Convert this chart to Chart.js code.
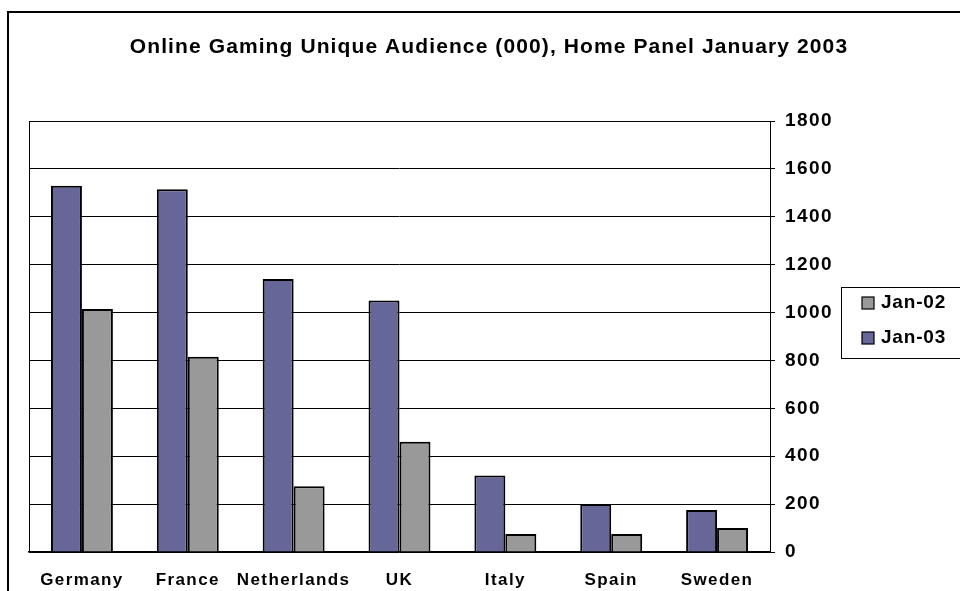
<!DOCTYPE html>
<html lang="en">
<head>
<meta charset="UTF-8">
<title>Online Gaming Unique Audience</title>
<script src="https://cdn.jsdelivr.net/npm/chart.js@4/dist/chart.umd.min.js"></script>
<style>
  html, body { margin:0; padding:0; background:#fff; }
  #wrap { width:960px; height:591px; }
</style>
</head>
<body>
<div id="wrap"><canvas id="chart" width="960" height="591"></canvas></div>

<script>
// ── Data ──────────────────────────────────────────
const countries = ['Germany','France','Netherlands','UK','Italy','Spain','Sweden'];
const jan03 = [1530, 1515, 1140, 1050, 320, 200, 175];
const jan02 = [1015, 815, 275, 460, 75, 75, 100];
const yTicks = [0,200,400,600,800,1000,1200,1400,1600,1800];

const TITLE = 'Online Gaming Unique Audience (000), Home Panel January 2003';
const FONT = 'Arial, "Liberation Sans", sans-serif';

// frame, title and legend drawn on the canvas
const framePlugin = {
  id: 'frame',
  beforeDraw(chart) {
    const ctx = chart.ctx;
    ctx.save();
    ctx.fillStyle = '#fff';
    ctx.fillRect(0, 0, chart.width, chart.height);
    ctx.strokeStyle = '#000';
    ctx.lineWidth = 2;
    ctx.beginPath();
    ctx.moveTo(8, 600);
    ctx.lineTo(8, 12);
    ctx.lineTo(970, 12);
    ctx.stroke();
    ctx.restore();
    ctx.letterSpacing = '1.4px';
  },
  afterDraw(chart) {
    const ctx = chart.ctx;
    const a = chart.chartArea;
    ctx.save();
    ctx.letterSpacing = '0px';
    ctx.strokeStyle = '#000';
    ctx.lineWidth = 1;
    ctx.beginPath();
    ctx.moveTo(a.left + 0.5, a.bottom);
    ctx.lineTo(a.left + 0.5, a.top + 0.5);
    ctx.lineTo(a.right, a.top + 0.5);
    ctx.stroke();

    // title
    ctx.letterSpacing = '1.1px';
    ctx.font = 'bold 21px ' + FONT;
    ctx.fillStyle = '#000';
    ctx.textAlign = 'center';
    ctx.textBaseline = 'alphabetic';
    ctx.fillText(TITLE, 489, 53);

    // legend (Excel order: last series first)
    ctx.letterSpacing = '0.8px';
    ctx.lineWidth = 1;
    ctx.strokeRect(841.5, 287.5, 130, 71);
    ctx.font = 'bold 19px ' + FONT;
    ctx.textAlign = 'left';
    ctx.textBaseline = 'middle';
    const ds = chart.data.datasets.slice().reverse();
    ds.forEach((d, i) => {
      const y = 303 + i * 35;
      ctx.fillStyle = d.backgroundColor;
      ctx.fillRect(862, y - 6, 12, 12);
      ctx.strokeStyle = '#000';
      ctx.lineWidth = 1.2;
      ctx.strokeRect(862, y - 6, 12, 12);
      ctx.fillStyle = '#000';
      ctx.fillText(d.label, 881, y);
    });
    ctx.restore();
  }
};

new Chart(document.getElementById('chart'), {
  type: 'bar',
  data: {
    labels: countries,
    datasets: [
      { label:'Jan-03', data:jan03, backgroundColor:'#666699', borderColor:'#000', borderWidth:2 },
      { label:'Jan-02', data:jan02, backgroundColor:'#999999', borderColor:'#000', borderWidth:2 }
    ]
  },
  options: {
    responsive: false,
    animation: false,
    devicePixelRatio: 1,
    layout: { padding: { left:29, top:121, right:0, bottom:0 } },
    datasets: { bar: { categoryPercentage:0.585, barPercentage:1.0 } },
    plugins: {
      legend: { display:false },
      title: { display:false },
      tooltip: { enabled:false }
    },
    scales: {
      x: {
        grid: { display:false, drawTicks:false },
        border: { color:'#000', width:1.5 },
        ticks: { color:'#000', font:{ family:FONT, size:17, weight:'bold' }, padding:18, maxRotation:0, autoSkip:false },
        afterFit(s) { s.height = 39; }
      },
      y: {
        position: 'right',
        min: 0, max: 1800,
        afterBuildTicks(s) { s.ticks = yTicks.map(v => ({ value:v })); },
        grid: { color:'#000', lineWidth:1, tickLength:5, drawTicks:true },
        border: { color:'#000', width:1 },
        ticks: { color:'#000', font:{ family:FONT, size:19, weight:'bold' }, padding:10, callback: v => String(v) },
        afterFit(s) { s.width = 190; }
      }
    }
  },
  plugins: [framePlugin]
});
</script>
</body></html>
